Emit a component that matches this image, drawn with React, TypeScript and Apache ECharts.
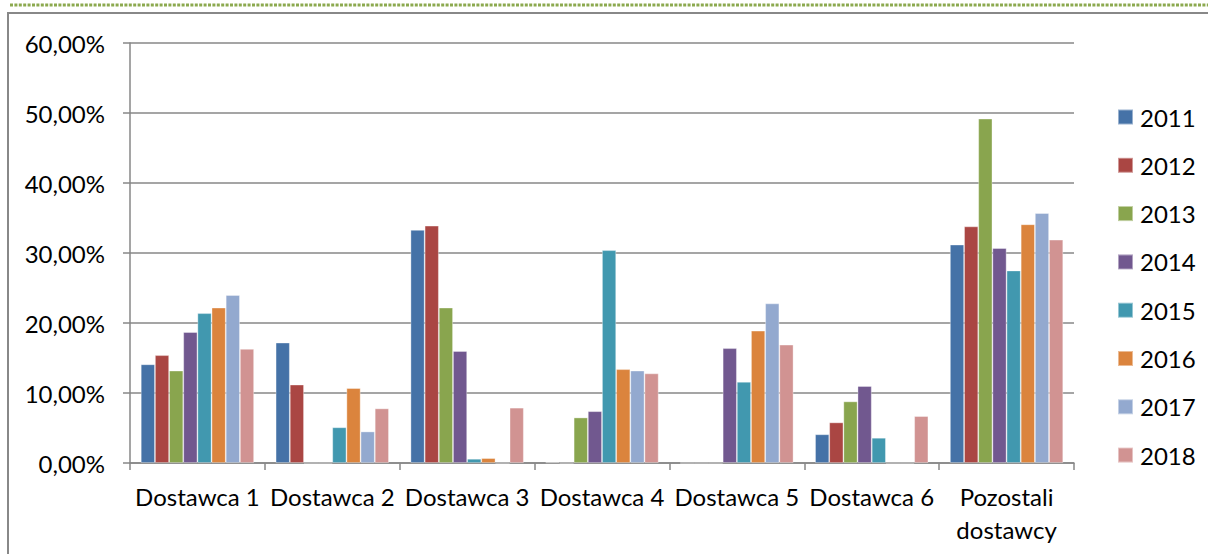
import React, { useEffect, useRef } from "react";
import * as echarts from "echarts";

const categories = [
  "Dostawca 1",
  "Dostawca 2",
  "Dostawca 3",
  "Dostawca 4",
  "Dostawca 5",
  "Dostawca 6",
  "Pozostali\ndostawcy",
];

const years = ["2011", "2012", "2013", "2014", "2015", "2016", "2017", "2018"];

const v2011 = [14.1, 17.2, 33.3, 0.1, 0, 4.1, 31.2];
const v2012 = [15.4, 11.2, 33.9, 0, 0, 5.8, 33.8];
const v2013 = [13.2, 0, 22.2, 6.5, 0, 8.8, 49.2];
const v2014 = [18.7, 0, 16.0, 7.4, 16.4, 11.0, 30.7];
const v2015 = [21.4, 5.1, 0.6, 30.4, 11.6, 3.6, 27.5];
const v2016 = [22.2, 10.7, 0.7, 13.4, 18.9, 0, 34.1];
const v2017 = [24.0, 4.5, 0, 13.2, 22.8, 0, 35.7];
const v2018 = [16.3, 7.8, 7.9, 12.8, 16.9, 6.7, 31.9];

const seriesValues = [v2011, v2012, v2013, v2014, v2015, v2016, v2017, v2018];

const yTicks = [0, 10, 20, 30, 40, 50, 60];

const colors = [
  "#4572A7",
  "#AA4643",
  "#89A54E",
  "#71588F",
  "#4198AF",
  "#DB843D",
  "#93A9CF",
  "#D19392",
];

const FONT = "Lato, 'Open Sans', sans-serif";

export default function App() {
  const ref = useRef<HTMLDivElement>(null);

  useEffect(() => {
    if (!ref.current) return;
    const chart = echarts.init(ref.current, null, { renderer: "svg" });
    chart.setOption({
      animation: false,
      backgroundColor: "#ffffff",
      color: colors,
      textStyle: { fontFamily: FONT },
      graphic: [
        {
          type: "line",
          shape: { x1: 10, y1: 5, x2: 1208, y2: 5 },
          style: { stroke: "#8CA94F", lineWidth: 3, lineDash: [3, 1.4] },
          silent: true,
        },
        {
          type: "rect",
          shape: { x: 8, y: 13, width: 1400, height: 700 },
          style: { fill: "none", stroke: "#888888", lineWidth: 2 },
          silent: true,
        },
      ],
      grid: { left: 130, right: 134, top: 43, bottom: 91, containLabel: false },
      legend: {
        orient: "vertical",
        left: 1117,
        top: 105,
        padding: 0,
        itemWidth: 15,
        itemHeight: 15,
        itemGap: 24.3,
        icon: "rect",
        data: years,
        textStyle: {
          fontFamily: FONT,
          fontSize: 24,
          lineHeight: 24,
          color: "#000000",
          padding: [0, 0, 0, 2],
        },
      },
      xAxis: {
        type: "category",
        data: categories,
        boundaryGap: true,
        axisLine: { show: true, lineStyle: { color: "#878787", width: 1.5 } },
        axisTick: {
          show: true,
          length: 7,
          interval: 0,
          lineStyle: { color: "#878787", width: 1.5 },
        },
        axisLabel: {
          interval: 0,
          margin: 17,
          color: "#000000",
          fontFamily: FONT,
          fontSize: 24,
          lineHeight: 33,
        },
      },
      yAxis: {
        type: "value",
        min: 0,
        max: 60,
        interval: 10,
        axisLine: { show: true, lineStyle: { color: "#878787", width: 1.5 } },
        axisTick: { show: true, length: 7, lineStyle: { color: "#878787", width: 1.5 } },
        splitLine: { show: true, lineStyle: { color: "#878787", width: 1.5 } },
        axisLabel: {
          margin: 25,
          color: "#000000",
          fontFamily: FONT,
          fontSize: 24,
          formatter: (v: number) =>
            yTicks.includes(v) ? v.toFixed(2).replace(".", ",") + "%" : "",
        },
      },
      series: years.map((y, i) => ({
        name: y,
        type: "bar",
        data: seriesValues[i],
        barGap: "0%",
        barCategoryGap: "16%",
        itemStyle: {
          color: colors[i],
          borderColor: "rgba(255,255,255,0.45)",
          borderWidth: 0.8,
        },
      })),
    });
    return () => chart.dispose();
  }, []);

  return (
    <div
      ref={ref}
      style={{ position: "fixed", left: 0, top: 0, width: 1208, height: 554 }}
    />
  );
}
